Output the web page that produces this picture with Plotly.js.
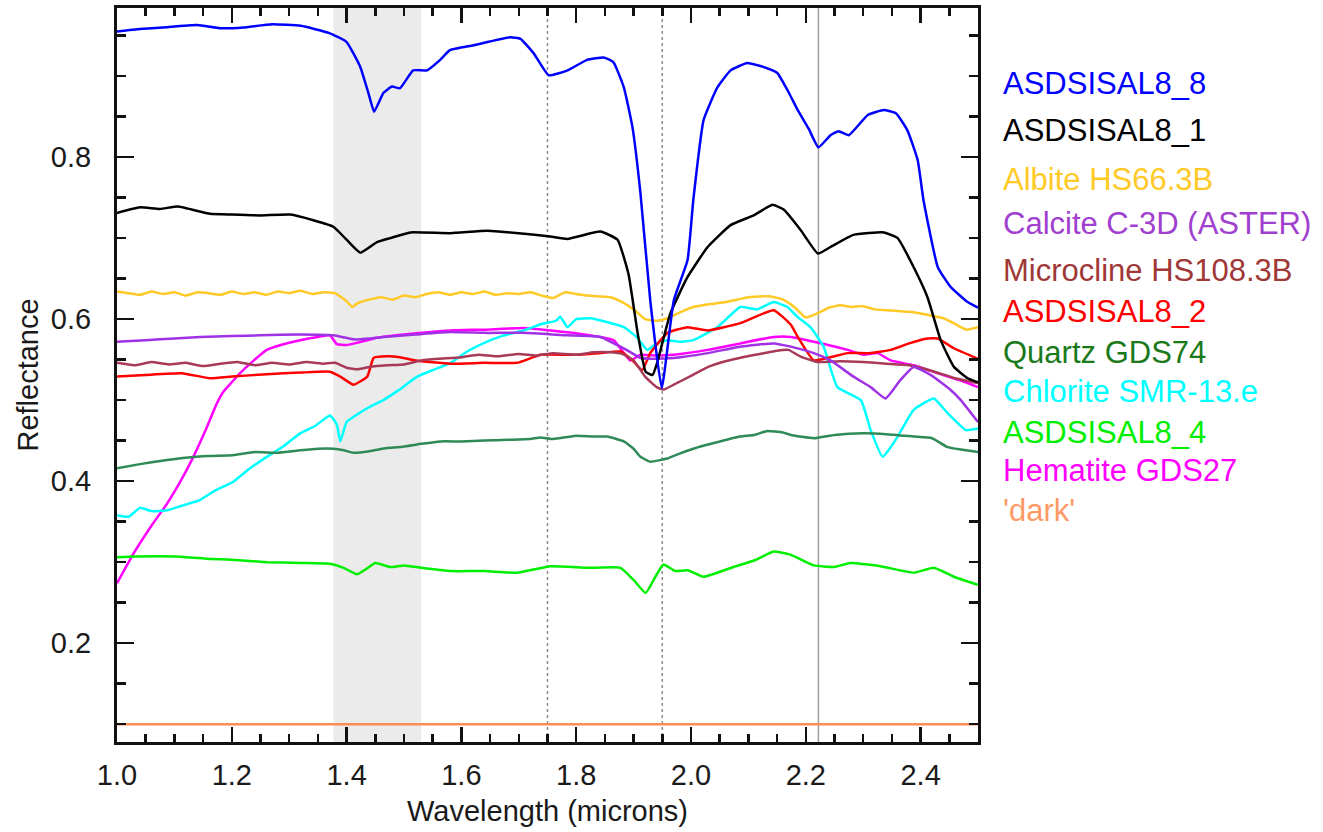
<!DOCTYPE html>
<html>
<head>
<meta charset="utf-8">
<script src="https://cdn.plot.ly/plotly-3.0.1.min.js"></script>
<style>html,body{margin:0;padding:0;background:#fff;}#chart{width:1323px;height:832px;}</style>
</head>
<body>
<div id="chart"></div>
<script>
// ---- data (wavelength in microns, reflectance) ----
const seriesNames = ["ASDSISAL8_8","ASDSISAL8_1","Albite HS66.3B","Calcite C-3D (ASTER)","Microcline HS108.3B","ASDSISAL8_2","Quartz GDS74","Chlorite SMR-13.e","ASDSISAL8_4","Hematite GDS27","'dark'"];

const wlAsd8 = [1.00,1.04,1.08,1.14,1.18,1.22,1.27,1.32,1.37,1.40,1.424,1.438,1.448,1.464,1.479,1.493,1.516,1.54,1.563,1.58,1.621,1.685,1.703,1.726,1.752,1.785,1.819,1.848,1.865,1.883,1.898,1.912,1.929,1.949,1.97,1.994,2.004,2.022,2.046,2.069,2.098,2.127,2.15,2.17,2.186,2.205,2.222,2.243,2.257,2.275,2.308,2.336,2.357,2.377,2.395,2.405,2.43,2.452,2.482,2.50];
const rAsd8  = [0.955,0.958,0.960,0.963,0.959,0.960,0.964,0.962,0.953,0.942,0.911,0.879,0.856,0.879,0.887,0.885,0.907,0.907,0.920,0.932,0.938,0.948,0.946,0.928,0.901,0.907,0.920,0.923,0.917,0.886,0.837,0.755,0.623,0.515,0.623,0.673,0.747,0.846,0.886,0.907,0.916,0.911,0.904,0.880,0.858,0.835,0.812,0.827,0.832,0.827,0.852,0.858,0.854,0.833,0.796,0.747,0.664,0.640,0.621,0.614];

const wlAsd1 = [1.00,1.04,1.075,1.106,1.162,1.20,1.249,1.302,1.342,1.377,1.40,1.424,1.453,1.476,1.511,1.581,1.645,1.70,1.755,1.785,1.842,1.872,1.891,1.907,1.921,1.933,1.941,1.964,1.994,2.029,2.069,2.109,2.142,2.162,2.191,2.221,2.243,2.283,2.336,2.36,2.388,2.412,2.435,2.458,2.482,2.50];
const rAsd1  = [0.731,0.738,0.736,0.739,0.730,0.729,0.728,0.729,0.722,0.714,0.698,0.682,0.695,0.700,0.707,0.706,0.709,0.706,0.702,0.699,0.708,0.698,0.656,0.583,0.535,0.531,0.546,0.607,0.652,0.689,0.716,0.728,0.741,0.735,0.710,0.681,0.689,0.704,0.707,0.700,0.664,0.627,0.574,0.541,0.527,0.522];

const wlAlbite = [1.00,1.02,1.04,1.06,1.08,1.10,1.12,1.14,1.16,1.18,1.20,1.22,1.24,1.26,1.28,1.30,1.32,1.34,1.36,1.38,1.40,1.41,1.42,1.44,1.46,1.48,1.50,1.52,1.54,1.56,1.58,1.60,1.62,1.64,1.66,1.68,1.70,1.72,1.74,1.76,1.78,1.80,1.82,1.84,1.86,1.88,1.90,1.92,1.94,1.96,1.98,2.00,2.02,2.04,2.06,2.08,2.10,2.12,2.14,2.16,2.18,2.20,2.22,2.24,2.26,2.28,2.30,2.32,2.34,2.36,2.38,2.40,2.42,2.44,2.46,2.48,2.50];
const rAlbite  = [0.634,0.632,0.630,0.634,0.631,0.633,0.629,0.633,0.632,0.630,0.634,0.631,0.633,0.630,0.634,0.632,0.635,0.631,0.633,0.632,0.622,0.615,0.620,0.624,0.627,0.624,0.629,0.627,0.631,0.633,0.630,0.633,0.631,0.634,0.630,0.632,0.631,0.633,0.629,0.626,0.633,0.631,0.629,0.628,0.627,0.621,0.612,0.600,0.598,0.601,0.608,0.614,0.617,0.619,0.621,0.624,0.627,0.628,0.628,0.624,0.615,0.602,0.607,0.614,0.617,0.615,0.616,0.612,0.611,0.610,0.609,0.607,0.604,0.601,0.594,0.587,0.590];

const wlCalcite = [1.00,1.05,1.10,1.145,1.20,1.25,1.319,1.377,1.412,1.44,1.464,1.52,1.581,1.64,1.708,1.785,1.842,1.877,1.895,1.912,1.94,1.97,2.029,2.086,2.144,2.174,2.214,2.243,2.283,2.313,2.339,2.365,2.388,2.42,2.45,2.47,2.50];
const rCalcite  = [0.572,0.574,0.576,0.578,0.579,0.580,0.581,0.580,0.575,0.576,0.578,0.581,0.584,0.583,0.583,0.580,0.578,0.566,0.559,0.552,0.551,0.552,0.558,0.566,0.570,0.566,0.558,0.549,0.529,0.516,0.502,0.525,0.541,0.530,0.514,0.500,0.473];

const wlMicro = [1.00,1.03,1.06,1.09,1.12,1.15,1.18,1.21,1.24,1.27,1.30,1.33,1.36,1.38,1.40,1.42,1.44,1.47,1.50,1.53,1.56,1.60,1.63,1.66,1.70,1.73,1.76,1.80,1.83,1.86,1.88,1.90,1.92,1.94,1.952,1.97,2.00,2.03,2.06,2.09,2.12,2.15,2.17,2.19,2.22,2.26,2.30,2.34,2.38,2.42,2.46,2.50];
const rMicro  = [0.546,0.543,0.547,0.544,0.546,0.542,0.545,0.547,0.543,0.546,0.544,0.547,0.545,0.546,0.540,0.538,0.541,0.543,0.544,0.549,0.551,0.553,0.556,0.554,0.557,0.555,0.558,0.556,0.559,0.559,0.557,0.549,0.529,0.516,0.513,0.519,0.530,0.541,0.548,0.553,0.557,0.561,0.562,0.554,0.547,0.548,0.547,0.545,0.543,0.536,0.527,0.521];

const wlAsd2 = [1.00,1.05,1.115,1.162,1.20,1.261,1.32,1.371,1.389,1.412,1.436,1.447,1.47,1.493,1.52,1.581,1.64,1.697,1.738,1.795,1.84,1.877,1.898,1.915,1.929,1.959,1.994,2.029,2.086,2.144,2.174,2.186,2.214,2.243,2.273,2.31,2.348,2.38,2.412,2.43,2.458,2.50];
const rAsd2  = [0.529,0.531,0.533,0.527,0.529,0.532,0.534,0.535,0.529,0.519,0.529,0.552,0.554,0.553,0.549,0.545,0.546,0.546,0.556,0.556,0.558,0.560,0.549,0.537,0.558,0.583,0.590,0.586,0.595,0.611,0.593,0.578,0.549,0.553,0.558,0.558,0.562,0.570,0.576,0.576,0.564,0.551];

const wlQuartz = [1.00,1.04,1.087,1.12,1.16,1.202,1.24,1.28,1.319,1.35,1.377,1.395,1.412,1.44,1.47,1.493,1.53,1.563,1.60,1.64,1.68,1.72,1.738,1.76,1.80,1.83,1.854,1.883,1.90,1.912,1.929,1.959,1.98,2.004,2.04,2.086,2.11,2.133,2.16,2.174,2.214,2.25,2.30,2.34,2.388,2.42,2.447,2.47,2.50];
const rQuartz  = [0.416,0.421,0.426,0.429,0.431,0.432,0.436,0.435,0.438,0.440,0.440,0.438,0.435,0.437,0.441,0.442,0.446,0.449,0.449,0.450,0.451,0.452,0.454,0.452,0.456,0.455,0.455,0.449,0.440,0.430,0.424,0.428,0.434,0.440,0.447,0.455,0.457,0.462,0.460,0.457,0.453,0.457,0.459,0.458,0.455,0.453,0.442,0.439,0.436];

const wlChlorite = [1.00,1.02,1.04,1.06,1.087,1.11,1.145,1.17,1.202,1.23,1.261,1.29,1.319,1.345,1.371,1.383,1.389,1.40,1.42,1.436,1.464,1.49,1.523,1.55,1.581,1.61,1.638,1.67,1.708,1.74,1.765,1.772,1.785,1.80,1.825,1.85,1.883,1.905,1.924,1.94,1.959,1.98,2.004,2.046,2.086,2.115,2.144,2.168,2.185,2.208,2.231,2.255,2.296,2.313,2.334,2.348,2.36,2.388,2.423,2.447,2.479,2.50];
const rChlorite  = [0.358,0.356,0.367,0.363,0.364,0.369,0.377,0.388,0.399,0.415,0.430,0.443,0.459,0.468,0.481,0.470,0.449,0.473,0.483,0.490,0.500,0.512,0.529,0.537,0.546,0.560,0.570,0.579,0.586,0.594,0.598,0.603,0.590,0.600,0.601,0.597,0.590,0.578,0.562,0.570,0.574,0.572,0.574,0.590,0.615,0.612,0.621,0.615,0.603,0.590,0.566,0.516,0.500,0.463,0.430,0.442,0.455,0.488,0.502,0.484,0.463,0.465];

const wlAsd4 = [1.00,1.03,1.105,1.162,1.20,1.261,1.32,1.371,1.395,1.418,1.435,1.45,1.476,1.50,1.53,1.581,1.64,1.697,1.755,1.82,1.877,1.90,1.921,1.938,1.952,1.973,1.994,2.022,2.074,2.11,2.144,2.174,2.214,2.249,2.278,2.33,2.388,2.423,2.458,2.50];
const rAsd4  = [0.306,0.307,0.307,0.304,0.303,0.300,0.299,0.298,0.293,0.285,0.292,0.299,0.294,0.296,0.293,0.289,0.289,0.287,0.295,0.293,0.293,0.278,0.262,0.282,0.297,0.289,0.290,0.282,0.294,0.302,0.313,0.309,0.296,0.294,0.299,0.295,0.287,0.293,0.282,0.272];

const wlHematite = [1.00,1.03,1.06,1.087,1.11,1.133,1.155,1.174,1.185,1.20,1.214,1.24,1.261,1.29,1.319,1.35,1.371,1.383,1.40,1.42,1.453,1.50,1.581,1.64,1.708,1.795,1.865,1.894,1.912,1.94,1.97,2.029,2.086,2.144,2.174,2.214,2.273,2.30,2.325,2.348,2.388,2.43,2.47,2.50];
const rHematite  = [0.274,0.312,0.345,0.372,0.399,0.430,0.464,0.496,0.510,0.522,0.533,0.550,0.562,0.569,0.574,0.578,0.580,0.569,0.568,0.571,0.577,0.581,0.586,0.587,0.589,0.583,0.574,0.549,0.556,0.555,0.556,0.562,0.570,0.578,0.578,0.572,0.562,0.556,0.558,0.549,0.543,0.533,0.524,0.516];

const wlDark = [1.00,2.50];
const rDark  = [0.10,0.10];

const lineColors = ["#0000ff","#000000","#ffc926","#a032e6","#a83a58","#ff0000","#2e8b57","#00ffff","#00ee00","#ff00ff","#ff8c55"];
const labelColors = ["#0000ff","#000000","#ffc926","#a040d0","#a03838","#ff0000","#1a7a1a","#00ffff","#00ee00","#ff00ff","#ff9966"];

const wls = [wlAsd8,wlAsd1,wlAlbite,wlCalcite,wlMicro,wlAsd2,wlQuartz,wlChlorite,wlAsd4,wlHematite,wlDark];
const refls = [rAsd8,rAsd1,rAlbite,rCalcite,rMicro,rAsd2,rQuartz,rChlorite,rAsd4,rHematite,rDark];

const featureLines = [1.75, 1.95];
const solidLine = 2.222;
const shadeBand = [1.377, 1.53];

// ---- build traces (draw in reverse so ASDSISAL8_8 is on top) ----
const traces = [];
for (let i = seriesNames.length - 1; i >= 0; i--) {
  traces.push({
    x: wls[i], y: refls[i], type: "scatter", mode: "lines", name: seriesNames[i],
    line: {color: lineColors[i], width: 2.5, shape: "spline", smoothing: 0.4},
    showlegend: false, hoverinfo: "skip"
  });
}

// legend as coloured text
const legendY = [83,130,179,223,270,311,352,392,433,470,510];
const annotations = seriesNames.map((n, i) => ({
  text: n, xref: "paper", yref: "paper", x: (1001 - 117) / 861, y: (742 - legendY[i]) / 734,
  xanchor: "left", yanchor: "middle", showarrow: false,
  font: {family: "Liberation Sans, Arial, sans-serif", size: 31, color: labelColors[i]}
}));

const shapes = [
  {type: "rect", xref: "x", yref: "paper", x0: shadeBand[0], x1: shadeBand[1], y0: 0, y1: 1,
   fillcolor: "#ebebeb", line: {width: 0}, layer: "below"},
  ...featureLines.map(v => ({type: "line", xref: "x", yref: "paper", x0: v, x1: v, y0: 0, y1: 1,
   line: {color: "#8c8c8c", width: 1.5, dash: "3px,3px"}, layer: "below"})),
  {type: "line", xref: "x", yref: "paper", x0: solidLine, x1: solidLine, y0: 0, y1: 1,
   line: {color: "#a0a0a0", width: 1.5}, layer: "below"}
];

const font = {family: "Liberation Sans, Arial, sans-serif", size: 28, color: "#1a1a1a"};
const layout = {
  width: 1323, height: 832,
  margin: {l: 117, r: 345, t: 8, b: 90},
  paper_bgcolor: "#ffffff", plot_bgcolor: "#ffffff",
  font: font,
  xaxis: {
    range: [1.0, 2.5], tick0: 1.0, dtick: 0.2, tickformat: ".1f",
    ticks: "inside", ticklen: 15, tickwidth: 2.5, tickcolor: "#111",
    showline: true, linecolor: "#111", linewidth: 3, mirror: "allticks",
    showgrid: false, zeroline: false, ticklabelstandoff: 5,
    minor: {dtick: 0.05, ticks: "inside", ticklen: 8, tickwidth: 2.5, tickcolor: "#111", showgrid: false},
    tickfont: {size: 29},
    title: {text: "Wavelength (microns)", font: {size: 29}, standoff: 11}
  },
  yaxis: {
    range: [0.078, 0.984], tick0: 0, dtick: 0.2, tickformat: ".1f",
    ticks: "inside", ticklen: 17, tickwidth: 2.5, tickcolor: "#111",
    showline: true, linecolor: "#111", linewidth: 3, mirror: "allticks",
    showgrid: false, zeroline: false, ticklabelstandoff: 17,
    minor: {dtick: 0.05, ticks: "inside", ticklen: 9, tickwidth: 2.5, tickcolor: "#111", showgrid: false},
    tickfont: {size: 29},
    title: {text: "Reflectance", font: {size: 29}, standoff: 4}
  },
  shapes: shapes,
  annotations: annotations,
  showlegend: false
};

Plotly.newPlot("chart", traces, layout, {displayModeBar: false, staticPlot: true});
</script>
</body>
</html>
